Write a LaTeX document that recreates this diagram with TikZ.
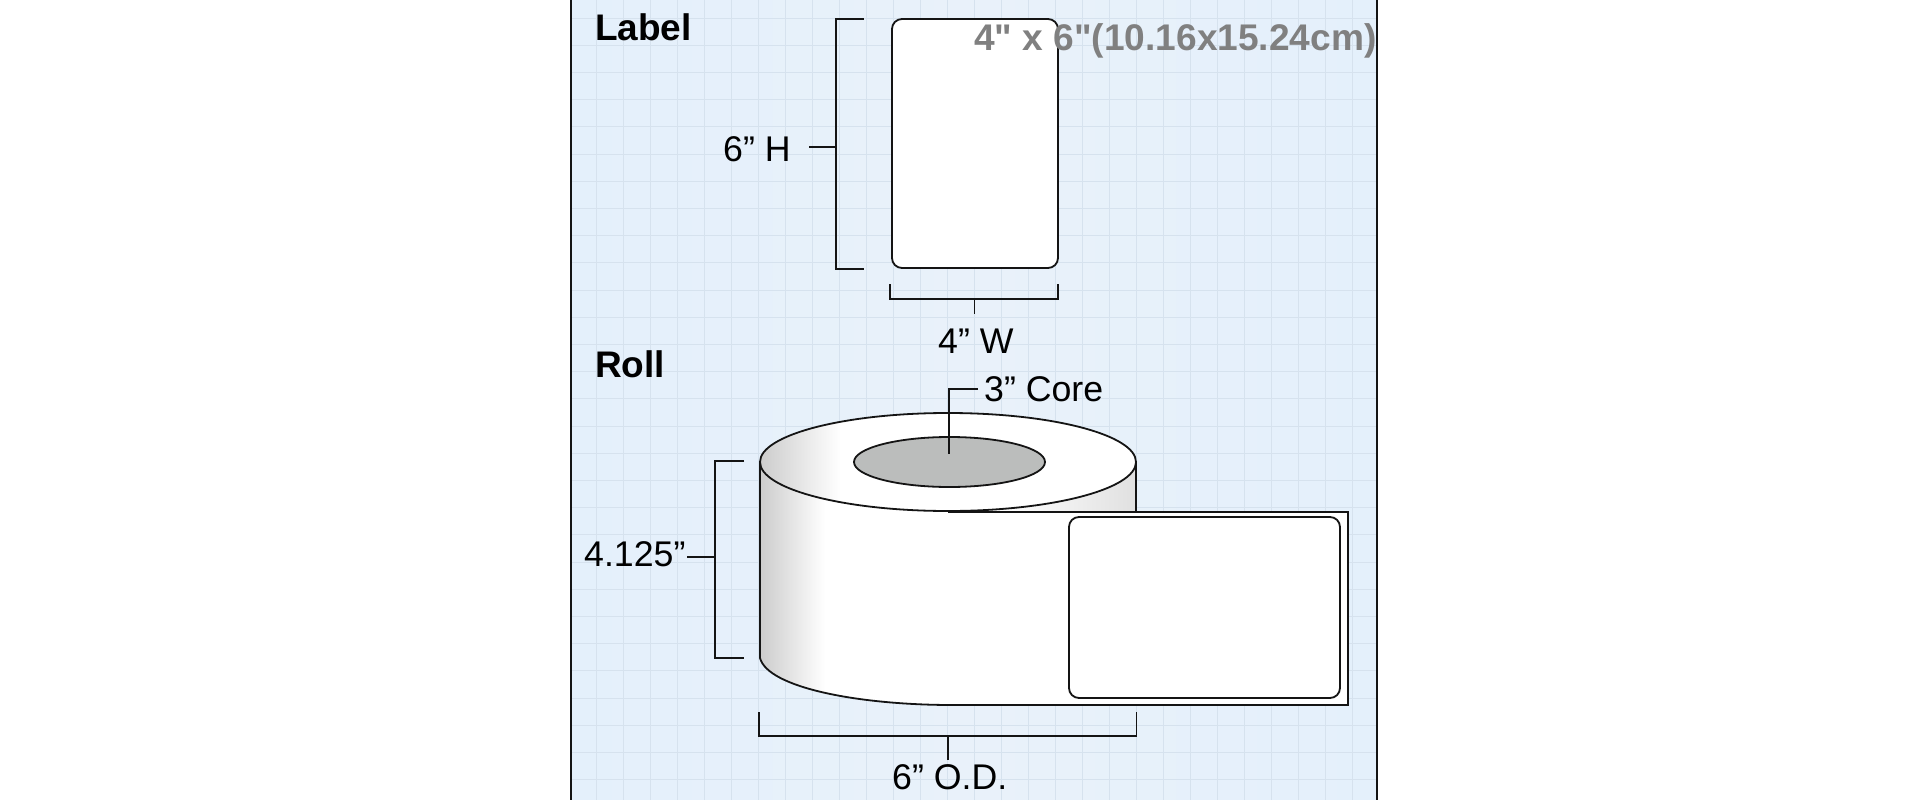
\documentclass[tikz,border=0pt]{standalone}
\usepackage{fontspec}
\usepackage{xcolor}
\setmainfont{Liberation Sans}
\newfontfamily\sizefont{Liberation Sans}
\definecolor{panelblue}{RGB}{228, 240, 251}
\definecolor{panelpale}{RGB}{233, 241, 250}
\definecolor{gridblue}{RGB}{214, 226, 238}
\definecolor{coregray}{RGB}{187, 189, 188}
\definecolor{sizegray}{RGB}{128, 128, 128}
\definecolor{inkblack}{RGB}{20, 20, 20}
\tikzset{
  bracketline/.style={draw=inkblack, line width=1.5pt},
  outline/.style={draw=inkblack, line width=1.8pt},
  sideshade/.style={left color=black!20, middle color=black!4, right color=white},
  dimtext/.style={font=\fontsize{35.7}{40}\selectfont, text=black, inner sep=0pt, anchor=base west},
  headtext/.style={font=\fontsize{37}{42}\selectfont\bfseries, text=black, inner sep=0pt, anchor=base west}
}

\begin{document}
\begin{tikzpicture}[x=1pt, y=-1pt]
\useasboundingbox (0,0) rectangle (1920,800);
% Panel
\fill[white] (0,0) rectangle (1920,800);
\shade[left color=panelblue, right color=panelblue, middle color=panelpale] (571,0) rectangle (1377,800);
% Grid
\foreach \x in {596,623,...,1376}
    \draw[gridblue, line width=0.7pt] (\x,0) -- (\x,800);
\foreach \y in {18,45.2,...,800}
    \draw[gridblue, line width=0.7pt] (571,\y) -- (1377,\y);
\draw[inkblack, line width=1.5pt] (571,0) -- (571,800);
\draw[inkblack, line width=1.5pt] (1377,0) -- (1377,800);

% Label sheet
\draw[outline, fill=white, rounded corners=10pt] (892,19) rectangle (1058,268);
% Label height bracket
\draw[bracketline] (864,19) -- (836,19) -- (836,269) -- (864,269);
\draw[bracketline] (809,147) -- (836,147);
% Label width bracket
\draw[bracketline] (890,284) -- (890,299) -- (1058,299) -- (1058,284);
\draw[bracketline] (974.5,299) -- (974.5,314);

% Roll body
\fill[white] (760,462) -- (760,658) .. controls (768,688) and (860,705) .. (952,705)
    -- (1348,705) -- (1348,512) -- (1136,512) -- (1136,462) -- cycle;
% Side shading
\begin{scope}
\clip (760,462) -- (760,658) .. controls (768,688) and (860,705) .. (952,705) -- (952,462) -- cycle;
\shade[sideshade] (760,462) rectangle (825,710);
\end{scope}
\shade[left color=white, right color=black!12] (1000,462) rectangle (1136,512);
\draw[outline] (760,462) -- (760,658) .. controls (768,688) and (860,705) .. (952,705)
    -- (1348,705) -- (1348,512) -- (948,512);
\draw[outline] (1136,462) -- (1136,512);
% Roll top
\fill[white] (948,462) ellipse [x radius=188, y radius=49];
\begin{scope}
\clip (948,462) ellipse [x radius=188, y radius=49];
\shade[sideshade] (760,410) rectangle (840,515);
\end{scope}
\draw[outline] (948,462) ellipse [x radius=188, y radius=49];
\draw[outline, fill=coregray] (949.5,462) ellipse [x radius=95.5, y radius=25];
% Label on the roll
\draw[outline, fill=white, rounded corners=10pt] (1069,517) rectangle (1340,698);

% Roll width bracket
\draw[bracketline] (744,461) -- (715,461) -- (715,658) -- (744,658);
\draw[bracketline] (687,557) -- (715,557);
% Outer diameter bracket
\draw[bracketline] (759,712) -- (759,736) -- (1136.5,736) -- (1136.5,712);
\draw[bracketline] (948,736) -- (948,760);
% Core pointer
\draw[bracketline] (978,389) -- (949,389) -- (949,454);

% Texts
\node[headtext] (labelhead) at (595,41) {Label};
\node[headtext] (rollhead) at (595,377) {Roll};
\node[font=\fontsize{37.1}{42}\selectfont\sizefont\bfseries, text=sizegray, inner sep=0pt, anchor=base west] (sizetext) at (974,51) {4" x 6"(10.16x15.24cm)};
\node[dimtext] (heighttext) at (723,161) {6” H};
\node[dimtext] (widthtext) at (938,353) {4” W};
\node[dimtext] (coretext) at (984,401) {3” Core};
\node[dimtext] (rolltext) at (584,566) {4.125”};
\node[dimtext] (odtext) at (892,789) {6” O.D.};
\end{tikzpicture}
\end{document}
